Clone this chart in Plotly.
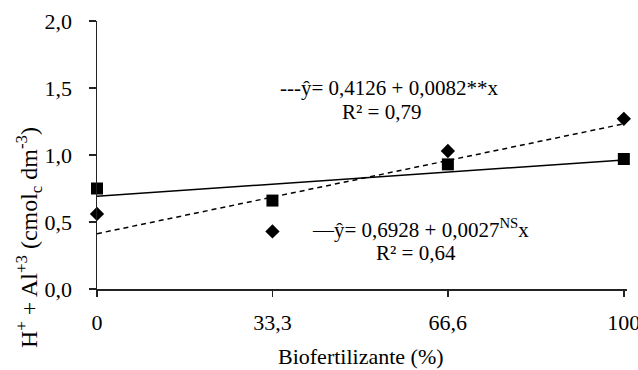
import plotly.graph_objects as go

# Data
x_levels = [0, 33.3, 66.6, 100]
x_tick_labels = ["0", "33,3", "66,6", "100"]
y_tick_vals = [0, 0.5, 1.0, 1.5, 2.0]
y_tick_labels = ["0,0", "0,5", "1,0", "1,5", "2,0"]

squares_obs = [0.75, 0.66, 0.93, 0.97]     # solid trend series
diamonds_obs = [0.56, 0.43, 1.03, 1.27]    # dashed trend series

# regression coefficients (as printed on the chart)
sq_b0, sq_b1 = 0.6928, 0.0027
dm_b0, dm_b1 = 0.4126, 0.0082

xs_fit = [0, 100]
sq_fit = [sq_b0 + sq_b1 * v for v in xs_fit]
dm_fit = [dm_b0 + dm_b1 * v for v in xs_fit]

FONT = "Liberation Serif, Times New Roman, serif"
FS = 22
FS_EQ = 21
AX = "#222222"

W, H = 638, 370
L, T, PW, PH = 97, 21, 530, 268

fig = go.Figure()
fig.add_trace(go.Scatter(x=xs_fit, y=dm_fit, mode="lines",
                         line=dict(color="black", width=1.5, dash="5px,4px"),
                         showlegend=False, hoverinfo="skip"))
fig.add_trace(go.Scatter(x=xs_fit, y=sq_fit, mode="lines",
                         line=dict(color="black", width=1.5),
                         showlegend=False, hoverinfo="skip"))
fig.add_trace(go.Scatter(x=x_levels, y=squares_obs, mode="markers",
                         marker=dict(symbol="square", size=12, color="black"),
                         showlegend=False, cliponaxis=False))
fig.add_trace(go.Scatter(x=x_levels, y=diamonds_obs, mode="markers",
                         marker=dict(symbol="diamond", size=11, color="black"),
                         showlegend=False, cliponaxis=False))

fig.update_layout(
    width=W, height=H,
    margin=dict(l=L, r=W - L - PW, t=T, b=H - T - PH, autoexpand=False),
    paper_bgcolor="white", plot_bgcolor="white",
    font=dict(family=FONT, size=FS, color="black"),
    hovermode=False,
    xaxis=dict(range=[0, 100.6], tickvals=x_levels, ticktext=x_tick_labels,
               showgrid=False, zeroline=False, showline=True, linecolor=AX,
               linewidth=1.5, ticks="outside", ticklen=6, tickcolor=AX,
               tickwidth=1.5, ticklabelstandoff=7, ticklabeloverflow="allow",
               automargin=False),
    yaxis=dict(range=[0, 2.0], tickvals=y_tick_vals, ticktext=y_tick_labels,
               showgrid=False, zeroline=False, showline=True, linecolor=AX,
               linewidth=1.5, ticks="outside", ticklen=7, tickcolor=AX,
               tickwidth=1.5, ticklabelstandoff=12, ticklabeloverflow="allow",
               automargin=False),
)


def px(xr):
    return (xr - L) / PW


def py(yr):
    return 1 - (yr - T) / PH


ann = [
    dict(text="---ŷ= 0,4126 + 0,0082**x", x=389, y=88),
    dict(text="R² = 0,79", x=381, y=112),
    dict(text="—ŷ= 0,6928 + 0,0027<sup>NS</sup>x", x=420, y=228),
    dict(text="R² = 0,64", x=416, y=253),
]
for a in ann:
    fig.add_annotation(text=a["text"], xref="paper", yref="paper",
                       x=px(a["x"]), y=py(a["y"]),
                       xanchor="center", yanchor="middle", showarrow=False,
                       font=dict(family=FONT, size=FS_EQ, color="black"))

# axis titles
fig.add_annotation(text="Biofertilizante (%)", xref="paper", yref="paper",
                   x=px(361), y=py(356),
                   xanchor="center", yanchor="middle", showarrow=False,
                   font=dict(family=FONT, size=FS, color="black"))
fig.add_annotation(text="H<sup>+</sup> + Al<sup>+3</sup> (cmol<sub>c</sub> dm<sup>-3</sup>)",
                   xref="paper", yref="paper",
                   x=px(29), y=py(238),
                   xanchor="center", yanchor="middle", textangle=-90,
                   showarrow=False,
                   font=dict(family=FONT, size=24, color="black"))

fig.write_html(
    "out.html",
    config={"displayModeBar": False, "staticPlot": True},
    post_script="document.body.style.margin='0';"
                "document.documentElement.style.overflow='hidden';"
                "document.body.style.overflow='hidden';",
)
